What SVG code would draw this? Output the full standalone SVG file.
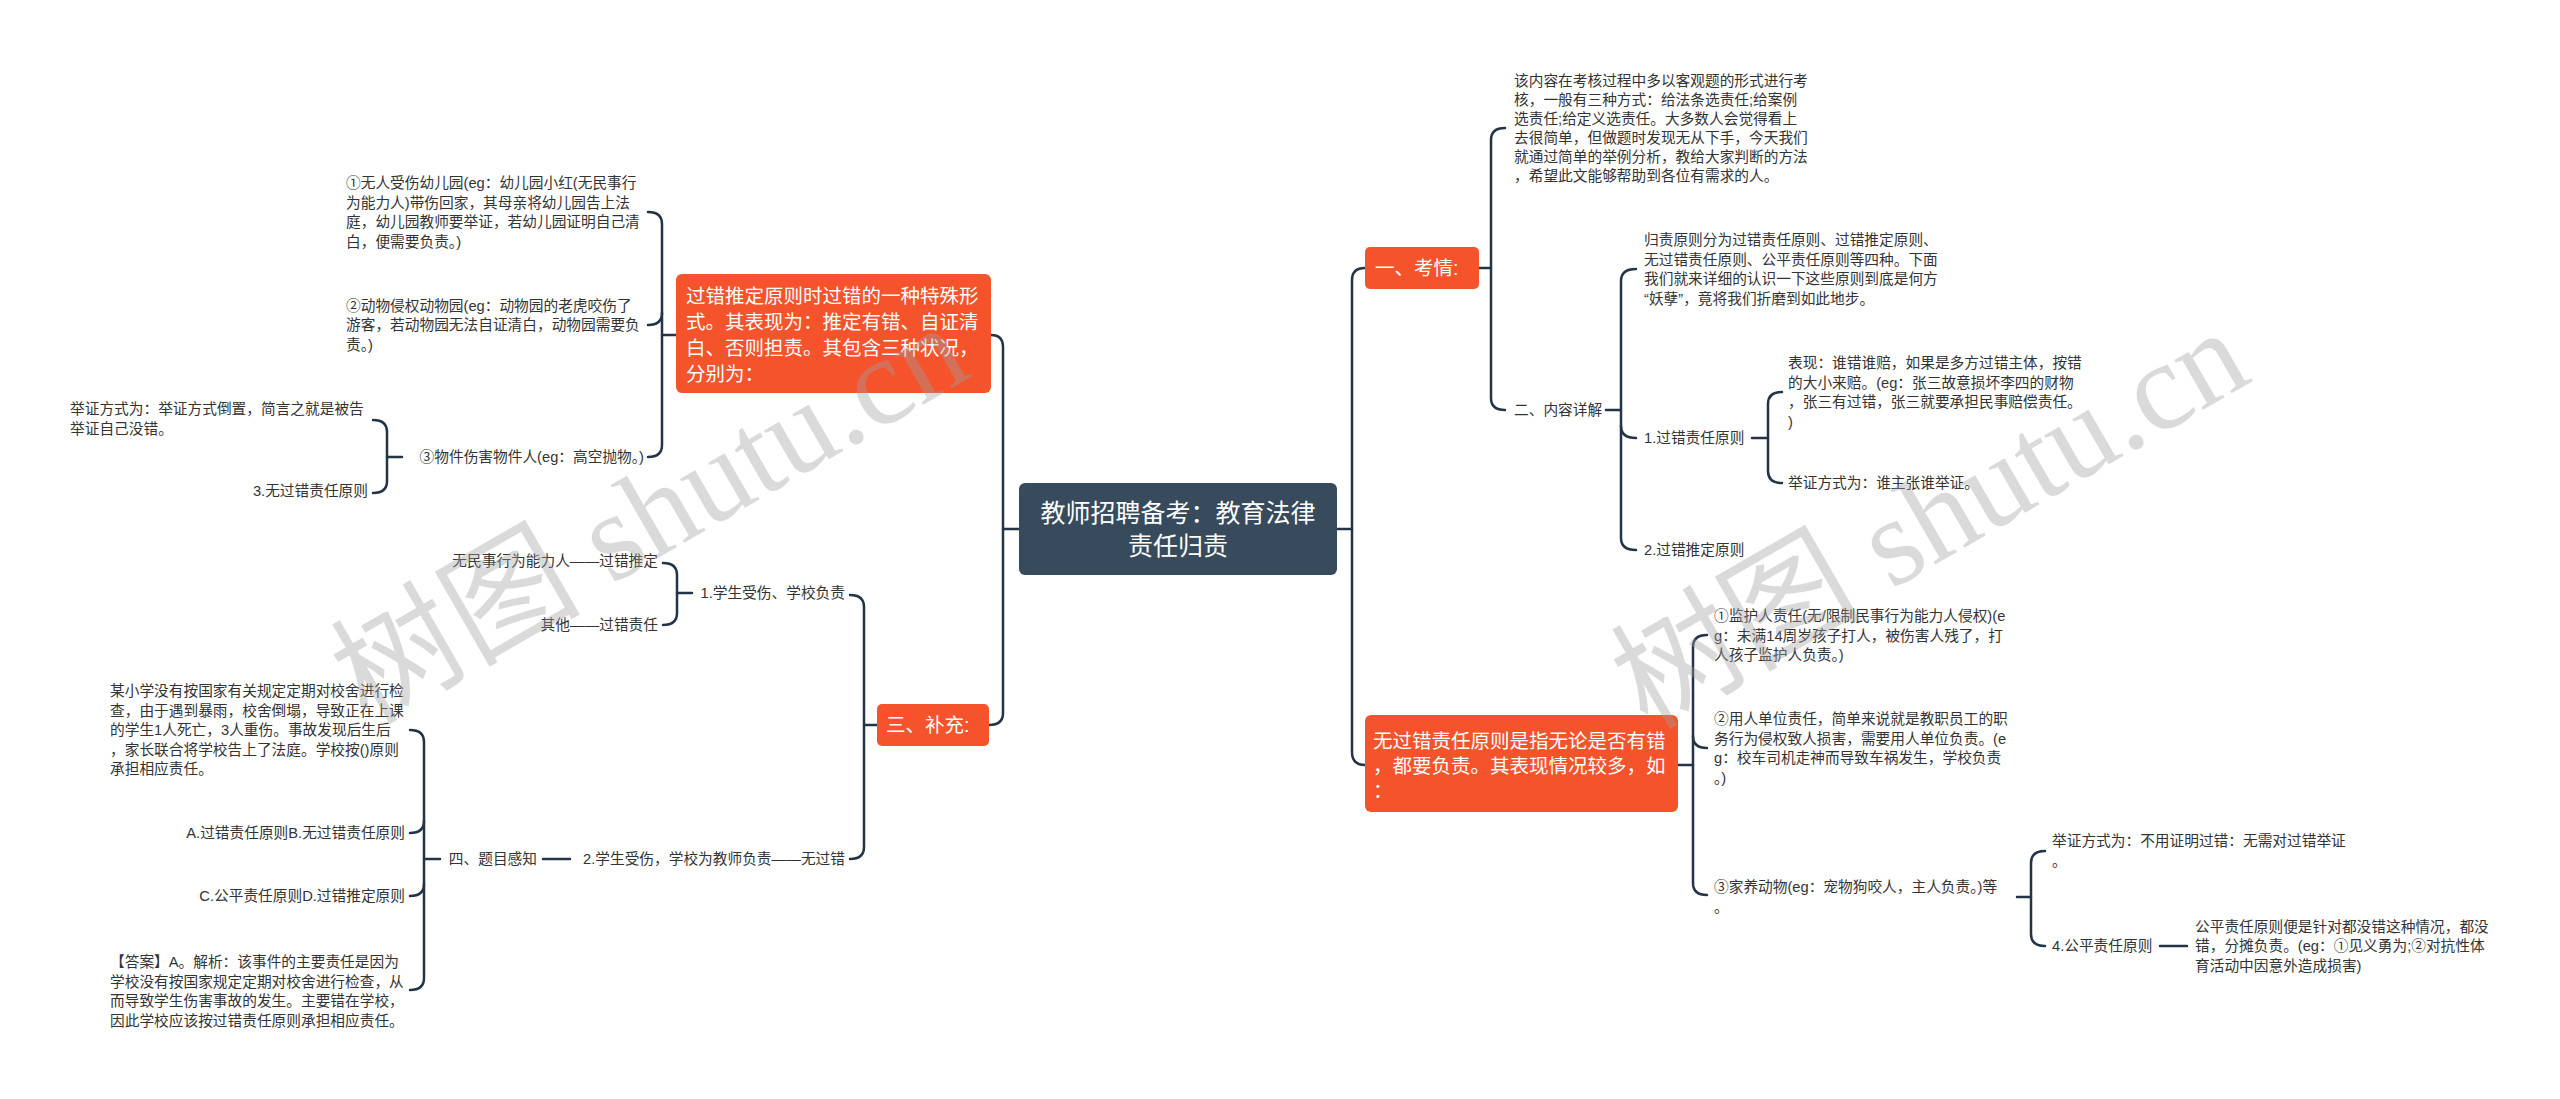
<svg xmlns="http://www.w3.org/2000/svg" width="2560" height="1099" viewBox="0 0 2560 1099">
<style>
text{font-family:"Liberation Sans","Noto Sans CJK SC",sans-serif;dominant-baseline:central}
.t{font-size:14.7px;fill:#333}
.e{text-anchor:end}
.w{fill:#fff;font-size:19.5px}
.root{fill:#fff;font-size:25px;text-anchor:middle}
.ob{fill:#f4532b}
.rb{fill:#374b5c}
#connectors path{fill:none;stroke:#243447;stroke-width:2.5;stroke-linecap:round}
.wm{font-family:"Liberation Serif","Noto Sans CJK SC",serif;font-size:125px;fill:#a0a0a0;opacity:0.38;text-anchor:middle}
</style>
<rect width="2560" height="1099" fill="#fff"/>
<g id="connectors">
<path d="M1337 529H1352"/>
<path d="M1365 268Q1352 268 1352 280V752Q1352 765 1365 765"/>
<path d="M1479 268H1491"/>
<path d="M1505 128Q1491 128 1491 140V398Q1491 410 1505 410"/>
<path d="M1606 410H1621"/>
<path d="M1636 269Q1621 269 1621 281V538Q1621 550 1636 550"/>
<path d="M1621 426Q1621 438 1636 438"/>
<path d="M1752 438H1768"/>
<path d="M1782 392Q1768 392 1768 404V471Q1768 483 1782 483"/>
<path d="M1678 765H1693"/>
<path d="M1707 635Q1693 635 1693 647V883Q1693 895 1707 895"/>
<path d="M1693 736Q1693 748 1707 748"/>
<path d="M2017 897H2031"/>
<path d="M2045 851Q2031 851 2031 863V934Q2031 946 2045 946"/>
<path d="M2160 946H2187"/>
<path d="M1019 529H1003"/>
<path d="M991 335Q1003 335 1003 347V713Q1003 725 989 725"/>
<path d="M676 335H662"/>
<path d="M648 212Q662 212 662 224V445Q662 457 648 457"/>
<path d="M662 313Q662 325 648 325"/>
<path d="M402 457H387"/>
<path d="M373 420Q387 420 387 432V481Q387 493 373 493"/>
<path d="M877 725H864"/>
<path d="M850 595Q864 595 864 607V847Q864 859 850 859"/>
<path d="M692 593H677"/>
<path d="M663 563Q677 563 677 575V613Q677 625 663 625"/>
<path d="M570 859H543"/>
<path d="M440 859H424"/>
<path d="M410 730Q424 730 424 742V978Q424 990 410 990"/>
<path d="M424 821Q424 833 410 833"/>
<path d="M424 884Q424 896 410 896"/>
</g>
<g id="root">
<rect class="rb" x="1019" y="483" width="318" height="92" rx="6"/>
<text class="root" x="1178" y="513">教师招聘备考：教育法律</text>
<text class="root" x="1178" y="546">责任归责</text>
</g>
<g id="n-kaoqing">
<rect class="ob" x="1365" y="247" width="114" height="42" rx="5"/>
<text class="w" x="1375" y="268">一、考情:</text>
</g>
<g id="n-intro">
<text class="t" x="1514"><tspan x="1514" y="80.5">该内容在考核过程中多以客观题的形式进行考</tspan><tspan x="1514" y="99.5">核，一般有三种方式：给法条选责任;给案例</tspan><tspan x="1514" y="118.5">选责任;给定义选责任。大多数人会觉得看上</tspan><tspan x="1514" y="137.5">去很简单，但做题时发现无从下手，今天我们</tspan><tspan x="1514" y="156.5">就通过简单的举例分析，教给大家判断的方法</tspan><tspan x="1514" y="175.5">，希望此文能够帮助到各位有需求的人。</tspan></text>
</g>
<g id="n-neirong"><text class="t" x="1514" y="410">二、内容详解</text></g>
<g id="n-guize">
<text class="t"><tspan x="1644" y="240">归责原则分为过错责任原则、过错推定原则、</tspan><tspan x="1644" y="259.5">无过错责任原则、公平责任原则等四种。下面</tspan><tspan x="1644" y="279">我们就来详细的认识一下这些原则到底是何方</tspan><tspan x="1644" y="298.5">“妖孽”，竟将我们折磨到如此地步。</tspan></text>
</g>
<g id="n-guocuo"><text class="t" x="1644" y="438">1.过错责任原则</text></g>
<g id="n-tuiding"><text class="t" x="1644" y="550">2.过错推定原则</text></g>
<g id="n-biaoxian">
<text class="t"><tspan x="1788" y="363">表现：谁错谁赔，如果是多方过错主体，按错</tspan><tspan x="1788" y="382.5">的大小来赔。(eg：张三故意损坏李四的财物</tspan><tspan x="1788" y="402">，张三有过错，张三就要承担民事赔偿责任。</tspan><tspan x="1788" y="421.5">)</tspan></text>
</g>
<g id="n-juzheng1"><text class="t" x="1788" y="483">举证方式为：谁主张谁举证。</text></g>
<g id="n-wuguocuo">
<rect class="ob" x="1365" y="715" width="313" height="97" rx="6"/>
<text class="w"><tspan x="1373" y="741">无过错责任原则是指无论是否有错</tspan><tspan x="1373" y="766">，都要负责。其表现情况较多，如</tspan><tspan x="1373" y="791">：</tspan></text>
</g>
<g id="n-jianhu">
<text class="t"><tspan x="1714" y="616">①监护人责任(无/限制民事行为能力人侵权)(e</tspan><tspan x="1714" y="635.5">g：未满14周岁孩子打人，被伤害人残了，打</tspan><tspan x="1714" y="655">人孩子监护人负责。)</tspan></text>
</g>
<g id="n-yongren">
<text class="t"><tspan x="1714" y="719">②用人单位责任，简单来说就是教职员工的职</tspan><tspan x="1714" y="738.5">务行为侵权致人损害，需要用人单位负责。(e</tspan><tspan x="1714" y="758">g：校车司机走神而导致车祸发生，学校负责</tspan><tspan x="1714" y="777.5">。)</tspan></text>
</g>
<g id="n-jiayang">
<text class="t"><tspan x="1714" y="887">③家养动物(eg：宠物狗咬人，主人负责。)等</tspan><tspan x="1714" y="906.5">。</tspan></text>
</g>
<g id="n-juzheng2">
<text class="t"><tspan x="2052" y="841">举证方式为：不用证明过错：无需对过错举证</tspan><tspan x="2052" y="860.5">。</tspan></text>
</g>
<g id="n-gongping"><text class="t" x="2052" y="946">4.公平责任原则</text></g>
<g id="n-gongping-d">
<text class="t"><tspan x="2195" y="926.5">公平责任原则便是针对都没错这种情况，都没</tspan><tspan x="2195" y="946">错，分摊负责。(eg：①见义勇为;②对抗性体</tspan><tspan x="2195" y="965.5">育活动中因意外造成损害)</tspan></text>
</g>
<g id="n-tuiding-node">
<rect class="ob" x="676" y="274" width="315" height="119" rx="6"/>
<text class="w"><tspan x="686" y="296">过错推定原则时过错的一种特殊形</tspan><tspan x="686" y="322">式。其表现为：推定有错、自证清</tspan><tspan x="686" y="348">白、否则担责。其包含三种状况，</tspan><tspan x="686" y="374">分别为：</tspan></text>
</g>
<g id="n-youer">
<text class="t"><tspan x="346" y="183">①无人受伤幼儿园(eg：幼儿园小红(无民事行</tspan><tspan x="346" y="202.5">为能力人)带伤回家，其母亲将幼儿园告上法</tspan><tspan x="346" y="222">庭，幼儿园教师要举证，若幼儿园证明自己清</tspan><tspan x="346" y="241.5">白，便需要负责。)</tspan></text>
</g>
<g id="n-dongwu">
<text class="t"><tspan x="346" y="305.5">②动物侵权动物园(eg：动物园的老虎咬伤了</tspan><tspan x="346" y="325">游客，若动物园无法自证清白，动物园需要负</tspan><tspan x="346" y="344.5">责。)</tspan></text>
</g>
<g id="n-wujian"><text class="t e" x="644" y="457">③物件伤害物件人(eg：高空抛物。)</text></g>
<g id="n-juzheng3">
<text class="t"><tspan x="70" y="409">举证方式为：举证方式倒置，简言之就是被告</tspan><tspan x="70" y="428.5">举证自己没错。</tspan></text>
</g>
<g id="n-wuguocuo2"><text class="t e" x="368" y="491">3.无过错责任原则</text></g>
<g id="n-buchong">
<rect class="ob" x="877" y="704" width="112" height="42" rx="5"/>
<text class="w" x="886" y="725">三、补充:</text>
</g>
<g id="n-xs1"><text class="t e" x="845" y="593">1.学生受伤、学校负责</text></g>
<g id="n-wmsx"><text class="t e" x="658" y="561">无民事行为能力人——过错推定</text></g>
<g id="n-qita"><text class="t e" x="658" y="625">其他——过错责任</text></g>
<g id="n-xs2"><text class="t e" x="845" y="859">2.学生受伤，学校为教师负责——无过错</text></g>
<g id="n-timu"><text class="t e" x="537" y="859">四、题目感知</text></g>
<g id="n-ti">
<text class="t"><tspan x="110" y="691">某小学没有按国家有关规定定期对校舍进行检</tspan><tspan x="110" y="710.5">查，由于遇到暴雨，校舍倒塌，导致正在上课</tspan><tspan x="110" y="730">的学生1人死亡，3人重伤。事故发现后生后</tspan><tspan x="110" y="749.5">，家长联合将学校告上了法庭。学校按()原则</tspan><tspan x="110" y="769">承担相应责任。</tspan></text>
</g>
<g id="n-ab"><text class="t e" x="405" y="833">A.过错责任原则B.无过错责任原则</text></g>
<g id="n-cd"><text class="t e" x="405" y="896">C.公平责任原则D.过错推定原则</text></g>
<g id="n-daan">
<text class="t"><tspan x="110" y="962">【答案】A。解析：该事件的主要责任是因为</tspan><tspan x="110" y="981.5">学校没有按国家规定定期对校舍进行检查，从</tspan><tspan x="110" y="1001">而导致学生伤害事故的发生。主要错在学校，</tspan><tspan x="110" y="1020.5">因此学校应该按过错责任原则承担相应责任。</tspan></text>
</g>
<g id="watermark">
<text class="wm" transform="translate(650 514) rotate(-30)">树图 shutu.cn</text>
<text class="wm" transform="translate(1930 519) rotate(-30)">树图 shutu.cn</text>
</g>
</svg>
